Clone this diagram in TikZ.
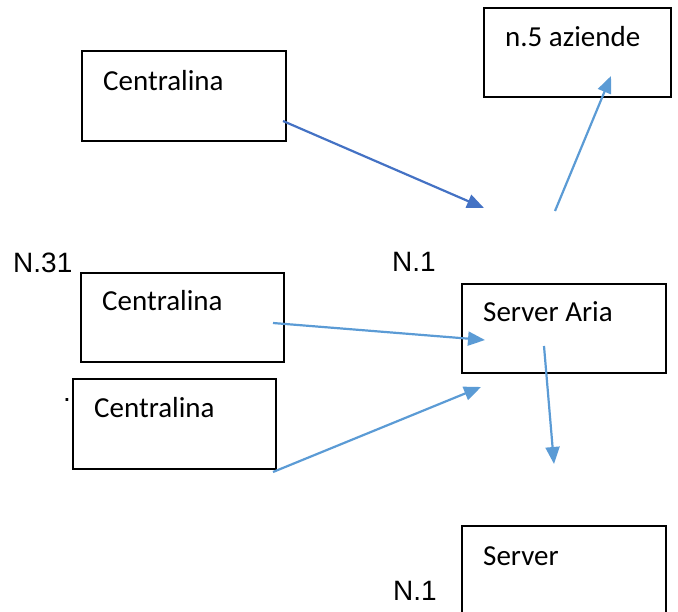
\documentclass[tikz,border=0pt]{standalone}
\usepackage{fontspec}
\usetikzlibrary{arrows.meta}
\newfontfamily\boxfont{Carlito}
\newfontfamily\labfont{Liberation Sans}
\definecolor{darkarrow}{HTML}{4472C4}
\definecolor{lightarrow}{HTML}{5B9BD5}
\tikzset{
  boxnode/.style={draw=black, line width=2pt, rectangle, inner sep=0pt},
  boxtext/.style={anchor=base west, inner sep=0pt, font=\boxfont\fontsize{29}{34}\selectfont},
  labtext/.style={anchor=base west, inner sep=0pt, font=\labfont\fontsize{28}{33}\selectfont},
  conn/.style={line width=2.2pt, -{Triangle[length=17pt,width=14pt]}},
}
\begin{document}
\begin{tikzpicture}[x=1pt,y=-1pt]
\clip (0,0) rectangle (678,612);
\useasboundingbox (0,0) rectangle (678,612);
% boxes
\node[boxnode, minimum width=204pt, minimum height=90pt] (c1) at (184,96) {};
\node[boxnode, minimum width=203pt, minimum height=89pt] (c2) at (182.5,317.5) {};
\node[boxnode, minimum width=203pt, minimum height=90pt] (c3) at (174.5,424) {};
\node[boxnode, minimum width=187pt, minimum height=89pt] (az) at (577,52.5) {};
\node[boxnode, minimum width=204pt, minimum height=89pt] (sa) at (564,328.5) {};
\node[boxnode, minimum width=204pt, minimum height=100pt] (sv) at (564,576) {};
% box texts
\node[boxtext] (t1) at (103,91) {Centralina};
\node[boxtext] (t2) at (102,311) {Centralina};
\node[boxtext] (t3) at (94,418) {Centralina};
\node[boxtext] (taz) at (505,47) {n.5 aziende};
\node[boxtext] (tsa) at (483,322) {Server Aria};
\node[boxtext] (tsv) at (483,565) {Server};
% labels
\node[labtext] (n31) at (13,273) {N.31};
\node[labtext] (n1a) at (392,272) {N.1};
\node[labtext] (n1b) at (393,600) {N.1};
\node[labtext] (dot) at (63,402) {.};
% arrow end points
\coordinate (a1s) at (283,121);
\coordinate (a1e) at (484,208);
\coordinate (a2s) at (555,211);
\coordinate (a2e) at (611,76);
\coordinate (a3s) at (273,323);
\coordinate (a3e) at (485,340);
\coordinate (a4s) at (273,472);
\coordinate (a4e) at (481,387);
\coordinate (a5s) at (544,346);
\coordinate (a5e) at (554,464);
% connectors
\draw[conn, darkarrow] (a1s) -- (a1e);
\draw[conn, lightarrow] (a2s) -- (a2e);
\draw[conn, lightarrow] (a3s) -- (a3e);
\draw[conn, lightarrow] (a4s) -- (a4e);
\draw[conn, lightarrow] (a5s) -- (a5e);
\end{tikzpicture}
\end{document}
